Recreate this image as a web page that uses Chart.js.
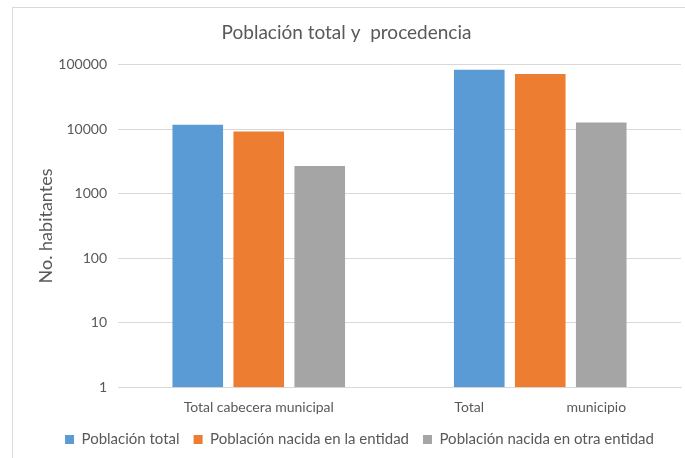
<!DOCTYPE html>
<html>
<head>
<meta charset="utf-8">
<script src="https://cdn.jsdelivr.net/npm/chart.js@4"></script>
<style>
    body { margin: 0; background: #fff; }
    #wrap { position: relative; width: 685px; height: 458px; }
    #frame { position: absolute; left: 12px; top: 7px; right: -2px; bottom: -2px; border-left: 1px solid #d9d9d9; border-top: 1px solid #d9d9d9; }
    canvas { position: absolute; left: 0; top: 0; }
</style>
</head>
<body>
<div id="wrap">
    <div id="frame"></div>
    <canvas id="barChart" width="685" height="458"></canvas>
</div>
<script>
// Chart values
const categories = ['Total cabecera municipal', 'Total                       municipio'];
const poblacionTotal = [11800, 84000];
const nacidaEntidad = [9200, 72000];
const nacidaOtraEntidad = [2700, 12700];
const yTicks = [1, 10, 100, 1000, 10000, 100000];

const fontFamily = 'Lato, "Open Sans", sans-serif';
const textColor = '#595959';

// keeps the legend compact and nudges it a little, like the original
const legendShift = {
    id: 'legendShift',
    afterInit(chart) {
        const legend = chart.legend;
        const origFit = legend.fit;
        legend.fit = function() {
            origFit.call(this);
            this.height -= 7;
        };
    },
    afterLayout(chart) {
        chart.legend.left += 13;
        chart.legend.right += 13;
        chart.legend.top -= 10;
        chart.legend.bottom -= 10;
    }
};

document.addEventListener('DOMContentLoaded', function() {
    const ctx = document.getElementById('barChart').getContext('2d');
    new Chart(ctx, {
        type: 'bar',
        data: {
            labels: categories,
            datasets: [
                { label: 'Población total', data: poblacionTotal, backgroundColor: '#5B9BD5' },
                { label: 'Población nacida en la entidad', data: nacidaEntidad, backgroundColor: '#ED7D31' },
                { label: 'Población nacida en otra entidad', data: nacidaOtraEntidad, backgroundColor: '#A5A5A5' }
            ]
        },
        plugins: [legendShift],
        options: {
            responsive: false,
            animation: false,
            devicePixelRatio: 1,
            datasets: {
                bar: { barPercentage: 0.83, categoryPercentage: 0.65 }
            },
            layout: { padding: { left: 12, right: 4, top: 8, bottom: -2 } },
            scales: {
                x: {
                    grid: { display: false, drawTicks: false },
                    border: { color: '#d9d9d9' },
                    ticks: { color: textColor, font: { family: fontFamily, size: 14 }, padding: 12, maxRotation: 0 }
                },
                y: {
                    type: 'logarithmic',
                    min: 1,
                    max: 100000,
                    afterBuildTicks: function(axis) {
                        axis.ticks = yTicks.map(v => ({ value: v }));
                    },
                    afterFit: function(axis) {
                        axis.width = 106;
                    },
                    grid: { color: '#d9d9d9', drawTicks: false },
                    border: { display: false },
                    ticks: {
                        color: textColor,
                        font: { family: fontFamily, size: 14 },
                        padding: 11,
                        callback: function(value) { return String(value); }
                    },
                    title: {
                        display: true,
                        text: 'No. habitantes',
                        color: textColor,
                        font: { family: fontFamily, size: 18 },
                        padding: { top: 23, bottom: 0 }
                    }
                }
            },
            plugins: {
                title: {
                    display: true,
                    text: 'Población total y  procedencia',
                    color: textColor,
                    font: { family: fontFamily, size: 19, weight: 'normal' },
                    padding: { top: 13, bottom: 21 }
                },
                legend: {
                    position: 'bottom',
                    labels: {
                        color: textColor,
                        font: { family: fontFamily, size: 15 },
                        boxWidth: 9,
                        boxHeight: 9,
                        padding: 14
                    }
                },
                tooltip: { enabled: false }
            }
        }
    });
});
</script>
</body>
</html>
